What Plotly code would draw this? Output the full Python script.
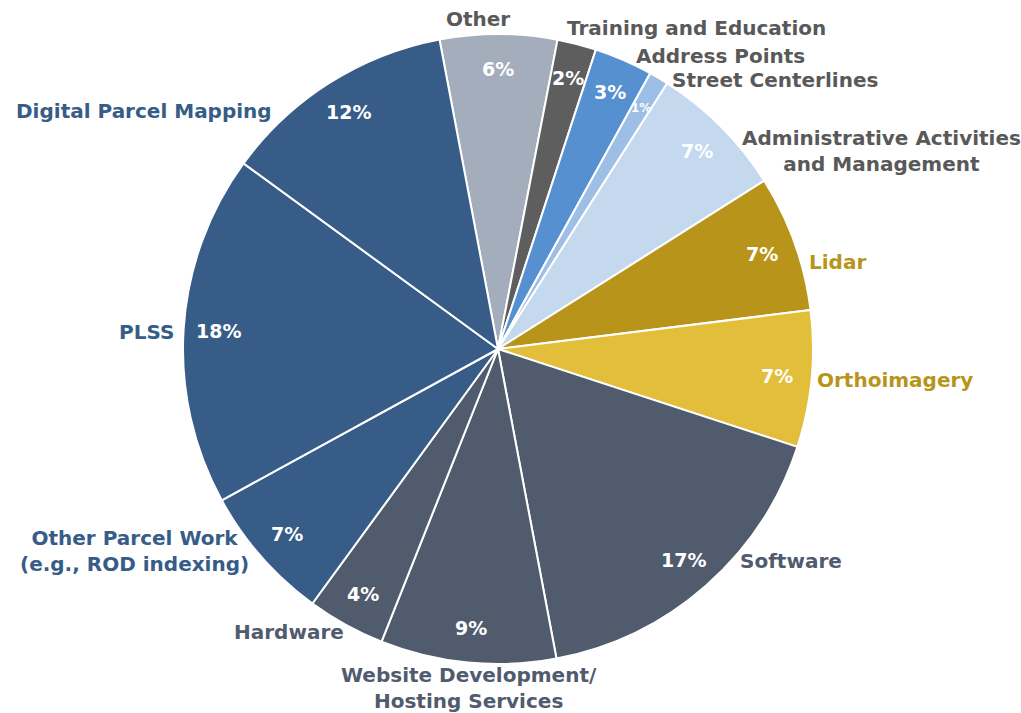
import math
import plotly.graph_objects as go

# Share of spending by activity (percent), clockwise from the "Other" slice
categories = [
    "Other", "Training and Education", "Address Points", "Street Centerlines",
    "Administrative Activities<br>and Management", "Lidar", "Orthoimagery",
    "Software", "Website Development/<br>Hosting Services", "Hardware",
    "Other Parcel Work<br>(e.g., ROD indexing)", "PLSS", "Digital Parcel Mapping",
]
shares = [6, 2, 3, 1, 7, 7, 7, 17, 9, 4, 7, 18, 12]

BLUE = "#365C87"
SLATE = "#505B6E"
GRAY = "#595959"
GOLD = "#B8951A"

slice_colors = [
    "#A4ADBC", "#5E5E5E", "#5690D0", "#9DBFE6", "#C4D8EE", "#B8951A",
    "#E2BE3B", SLATE, SLATE, SLATE, BLUE, BLUE, BLUE,
]
label_colors = [
    GRAY, GRAY, GRAY, GRAY, GRAY, GOLD, GOLD,
    SLATE, SLATE, SLATE, BLUE, BLUE, BLUE,
]

# Label placement (pixel centre x, pixel centre y)
label_xy = [
    (478, 19), (696, 28), (720, 56), (775, 80), (881, 151), (837, 262),
    (895, 380), (791, 561), (469, 688), (289, 632), (134, 551),
    (146, 332), (144, 111),
]

W, H = 1021, 713
CX, CY, R = 498, 349, 315
ROTATION = -10.7
FONT = "DejaVu Sans"

fig = go.Figure(go.Pie(
    labels=[c.replace("<br>", " ") for c in categories],
    values=shares,
    sort=False,
    direction="clockwise",
    rotation=ROTATION,
    marker=dict(colors=slice_colors, line=dict(color="white", width=2)),
    textinfo="none",
    hoverinfo="label+percent",
    showlegend=False,
    domain=dict(
        x=[(CX - R) / W, (CX + R) / W],
        y=[(H - CY - R) / H, (H - CY + R) / H],
    ),
))

annotations = []
total = sum(shares)
cum = 0
for cat, v, lc, (lx, ly) in zip(categories, shares, label_colors, label_xy):
    mid = math.radians(ROTATION + 360 * (cum + v / 2) / total)
    cum += v
    rr = 0.89 * R
    px = CX + rr * math.sin(mid)
    py = CY - rr * math.cos(mid)
    small = v < 2
    annotations.append(dict(
        x=px / W, y=1 - py / H, xref="paper", yref="paper",
        text=f"<b>{v}%</b>", showarrow=False,
        font=dict(family=FONT, size=12 if small else 19, color="white"),
        xanchor="center", yanchor="middle",
    ))
    annotations.append(dict(
        x=lx / W, y=1 - ly / H, xref="paper", yref="paper",
        text=f"<b>{cat}</b>", showarrow=False, align="center",
        font=dict(family=FONT, size=20, color=lc),
        xanchor="center", yanchor="middle",
    ))

fig.update_layout(
    width=W, height=H,
    margin=dict(l=0, r=0, t=0, b=0),
    paper_bgcolor="white", plot_bgcolor="white",
    annotations=annotations,
)

fig.write_html("out.html")
